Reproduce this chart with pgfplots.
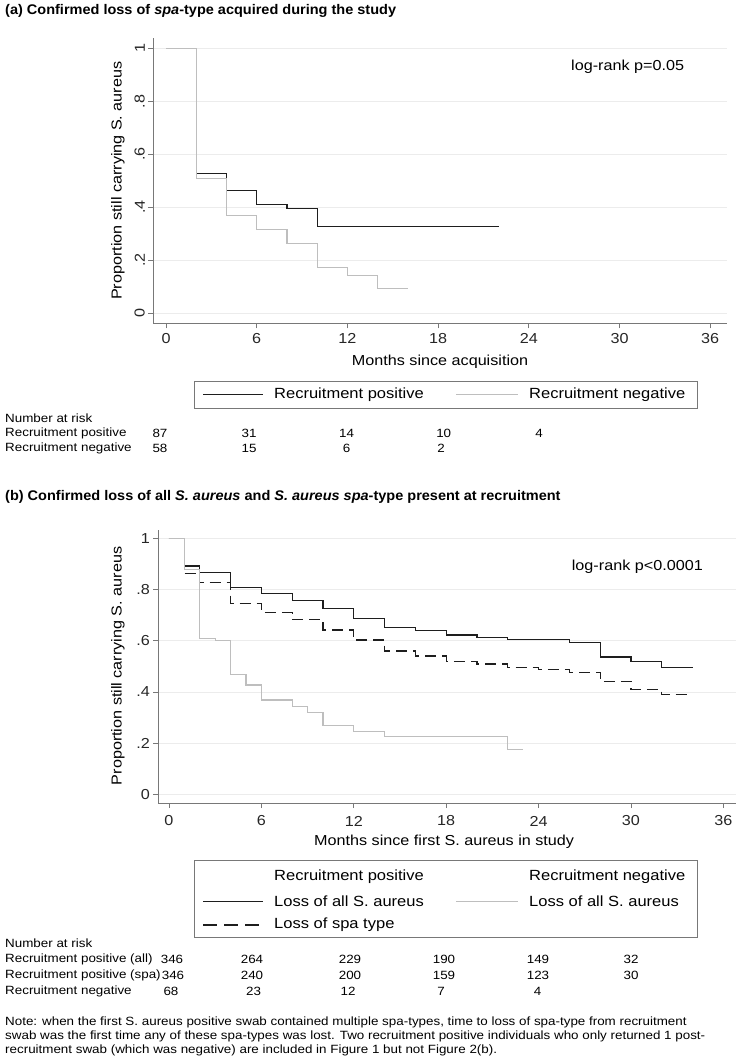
\documentclass[border=0pt]{standalone}
\usepackage{fontspec}
\setmainfont{Liberation Sans}[FakeStretch=1.12]
\newfontfamily\titlefont{Liberation Sans}[FakeStretch=1.04]
\usepackage{graphicx}
\usepackage{pgfplots}
\pgfplotsset{compat=1.18}
\definecolor{kmgray}{RGB}{190,190,190}
\definecolor{kmblack}{RGB}{30,30,30}
\definecolor{axgray}{RGB}{120,120,120}
\definecolor{gridc}{RGB}{236,236,236}
\pgfplotsset{kmaxis/.style={
  scale only axis,
  axis x line*=bottom, axis y line*=left,
  axis line style={axgray, line width=0.8bp},
  every tick/.style={axgray, line width=0.8bp},
  tick align=outside, major tick length=5bp,
  xtick={0,6,12,18,24,30,36},
  ytick={0,0.2,0.4,0.6,0.8,1},
  yticklabels={0,.2,.4,.6,.8,1},
  ymajorgrids, grid style={gridc, line width=0.8bp},
  /pgf/number format/assume math mode=true,
  tick label style={font=\fontsize{14.5}{16}\selectfont, text=black!85},
  label style={font=\fontsize{14.5}{16}\selectfont},
  no markers, clip=false,
}}
\newcommand{\T}[4][]{\node[inner sep=0pt,#1] at (#2bp,-#3bp) {#4};}
\newcommand{\R}[1]{\rotatebox{90}{#1}}
\begin{document}
\begin{tikzpicture}
\useasboundingbox (0,0) rectangle (737bp,-1064bp);
% ---------- titles
\T[anchor=west,font=\titlefont\bfseries\fontsize{14}{16}\selectfont]{5}{11}{(a) Confirmed loss of \textit{spa}-type acquired during the study}
\T[anchor=west,font=\titlefont\bfseries\fontsize{14}{16}\selectfont]{5}{497}{(b) Confirmed loss of all \textit{S. aureus} and \textit{S. aureus spa}-type present at recruitment}
% ---------- panel (a)
\begin{axis}[kmaxis, at={(153bp,-323.3bp)}, anchor=south west,
  width=574bp, height=285.3bp,
  xmin=-0.86, xmax=37.11, ymin=-0.039, ymax=1.039,
  yticklabels={\R{0},\R{.2},\R{.4},\R{.6},\R{.8},\R{1}},
  yticklabel style={anchor=east, inner sep=0pt, xshift=-3bp},
  xticklabel style={anchor=center, inner sep=0pt, yshift=-10.1bp},
  xlabel={Months since acquisition},
  xlabel style={at={(axis description cs:0.5,-0.1346)}, anchor=center, inner sep=0pt},
  ylabel={Proportion still carrying S. aureus},
  ylabel style={at={(axis description cs:-0.061,0.5)}, anchor=center, inner sep=0pt},
]
\addplot[const plot, kmblack, line width=1.2bp] coordinates {
 (0,1) (2,0.528) (4,0.462) (6,0.409) (8,0.394) (10,0.327) (22,0.327)};
\addplot[const plot, kmgray, line width=1.2bp] coordinates {
 (0,1) (2,0.509) (4,0.367) (6,0.314) (8,0.262) (10,0.172) (12,0.142) (14,0.093) (16,0.093)};
\end{axis}
\T[anchor=west,font=\fontsize{14.5}{16}\selectfont]{571}{67}{log-rank p=0.05}
% legend (a)
\draw[axgray, line width=0.8bp] (194bp,-381bp) rectangle (697bp,-408bp);
\draw[kmblack, line width=1.2bp] (203bp,-394.5bp) -- (263bp,-394.5bp);
\draw[kmgray, line width=1.2bp] (456bp,-394.5bp) -- (518bp,-394.5bp);
\T[anchor=west,font=\fontsize{14.8}{16}\selectfont]{274}{394.5}{Recruitment positive}
\T[anchor=west,font=\fontsize{14.8}{16}\selectfont]{529}{394.5}{Recruitment negative}
% number at risk (a)
\begin{scope}[every node/.append style={font=\fontsize{12}{14}\selectfont}]
\T[anchor=west]{5}{418}{Number at risk}
\T[anchor=west]{5}{433}{Recruitment positive}
\T[anchor=west]{5}{448}{Recruitment negative}
\T{160}{433}{87}\T{249}{433}{31}\T{346.5}{433}{14}\T{443.7}{433}{10}\T{539}{433}{4}
\T{160}{448}{58}\T{249}{448}{15}\T{346.5}{448}{6}\T{441}{448}{2}
\end{scope}
% ---------- panel (b)
\begin{axis}[kmaxis, at={(158bp,-803bp)}, anchor=south west,
  width=578bp, height=273bp,
  xmin=-0.714, xmax=36.82, ymin=-0.034, ymax=1.0324,
  yticklabel style={anchor=east, inner sep=0pt, xshift=-3bp},
  xticklabel style={anchor=center, inner sep=0pt, yshift=-13bp},
  xlabel={Months since first S. aureus in study},
  xlabel style={at={(axis description cs:0.495,-0.1429)}, anchor=center, inner sep=0pt},
  ylabel={Proportion still carrying S. aureus},
  ylabel style={at={(axis description cs:-0.0692,0.502)}, anchor=center, inner sep=0pt},
]
\addplot[const plot, kmblack, line width=1.2bp] coordinates {
 (0,1) (1,0.892) (2,0.866) (4,0.809) (6,0.783) (8,0.758) (10,0.725) (12,0.688)
 (14,0.652) (16,0.641) (18,0.622) (20,0.614) (22,0.604) (26,0.592) (28,0.536)
 (30,0.519) (32,0.496) (34,0.496)};
\addplot[const plot, kmblack, line width=1.2bp, dash pattern=on 11bp off 6bp] coordinates {
 (0,1) (1,0.862) (2,0.827) (4,0.745) (6,0.710) (8,0.684) (10,0.642) (12,0.603)
 (14,0.560) (16,0.540) (18,0.519) (20,0.509) (22,0.495) (24,0.488) (26,0.477)
 (28,0.441) (30,0.410) (32,0.389) (34,0.389)};
\addplot[const plot, kmgray, line width=1.2bp] coordinates {
 (0,1) (1,0.879) (2,0.609) (3,0.602) (4,0.469) (5,0.427) (6,0.368) (8,0.342)
 (9,0.320) (10,0.270) (12,0.245) (14,0.225) (22,0.176) (23,0.176)};
\end{axis}
\T[anchor=west,font=\fontsize{14.5}{16}\selectfont]{571.7}{566.7}{log-rank p<0.0001}
% legend (b)
\draw[axgray, line width=0.8bp] (194bp,-860bp) rectangle (697bp,-937bp);
\draw[kmblack, line width=1.2bp] (203bp,-901.7bp) -- (263bp,-901.7bp);
\draw[kmblack, line width=1.2bp, dash pattern=on 14bp off 7bp] (203bp,-925bp) -- (263bp,-925bp);
\draw[kmgray, line width=1.2bp] (456bp,-901.7bp) -- (518bp,-901.7bp);
\begin{scope}[every node/.append style={font=\fontsize{14.8}{16}\selectfont}]
\T[anchor=west]{274}{876.7}{Recruitment positive}
\T[anchor=west]{529}{876.7}{Recruitment negative}
\T[anchor=west]{274}{901.7}{Loss of all S. aureus}
\T[anchor=west]{529}{901.7}{Loss of all S. aureus}
\T[anchor=west]{274}{925}{Loss of spa type}
\end{scope}
% number at risk (b)
\begin{scope}[every node/.append style={font=\fontsize{12}{14}\selectfont}]
\T[anchor=west]{5}{943}{Number at risk}
\T[anchor=west]{5}{959}{Recruitment positive (all)}
\T[anchor=west]{5}{975}{Recruitment positive (spa)}
\T[anchor=west]{5}{991}{Recruitment negative}
\T{172}{959}{346}\T{252}{959}{264}\T{350}{959}{229}\T{444}{959}{190}\T{538}{959}{149}\T{631}{959}{32}
\T{173}{975}{346}\T{252}{975}{240}\T{350}{975}{200}\T{444}{975}{159}\T{538}{975}{123}\T{631}{975}{30}
\T{171}{991}{68}\T{253.5}{991}{23}\T{348}{991}{12}\T{441}{991}{7}\T{537.6}{991}{4}
\T[anchor=west]{5}{1022.7}{Note: when the first S. aureus positive swab contained multiple spa-types, time to loss of spa-type from recruitment}
\T[anchor=west]{5}{1036.7}{swab was the first time any of these spa-types was lost. Two recruitment positive individuals who only returned 1 post-}
\T[anchor=west]{5}{1050.7}{recruitment swab (which was negative) are included in Figure 1 but not Figure 2(b).}
\end{scope}
\end{tikzpicture}
\end{document}
